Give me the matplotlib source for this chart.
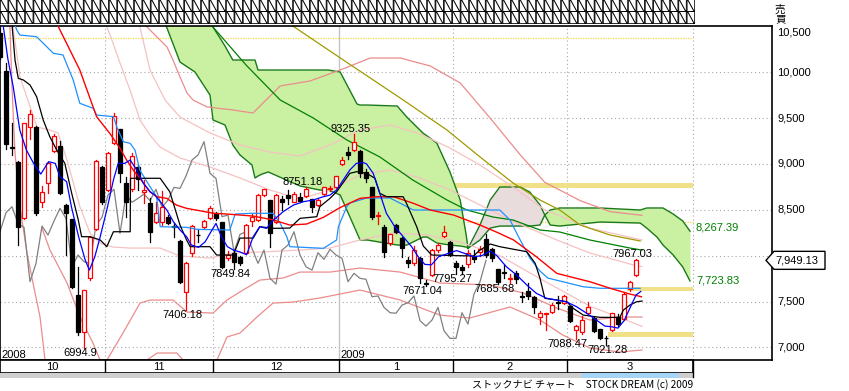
import matplotlib
matplotlib.use('Agg')
import matplotlib.pyplot as plt
from matplotlib.patches import Rectangle, Polygon
import matplotlib.transforms as mtransforms

W, H, DPI = 849, 391, 100
NUMFONT = 'Liberation Sans'
JPFONT = ['Noto Sans CJK JP', 'DejaVu Sans']

# ---------------- data (day index 0 = 2008-10-07) ----------------
opens = [10430, 10017, 9190, 9025, 8414, 9400, 9407, 8589, 8789, 9145, 9196, 8552, 8400, 7570, 7164, 7753, 8287, 8967,
         8716, 9232, 9378, 8789, 8724, 8963, 8690, 8571, 8370, 8370, 8425, 8320, 8160, 7607, 8032, 8230, 8316, 8407,
         8469, 8364, 7971, 8025, 7989, 8025, 8381, 8389, 8662, 8607, 8370, 8618, 8662, 8589, 8636, 8651, 8614, 8552, 8672, 8725, 8745,
         9000, 9134, 9152, 9145, 8916, 8745, 8430, 8316, 8135, 8334, 8189, 7952, 7916, 7971, 7700, 7789, 8061, 8214, 8152,
         7923, 7879, 7909, 7996, 8043, 8178, 8069, 7851, 7820, 7745, 7807, 7560, 7617, 7552, 7327, 7360, 7389, 7495, 7487,
         7450, 7189, 7170, 7378, 7316, 7196, 7100, 7189, 7334, 7305, 7633, 7789]
highs = [10480, 10100, 9447, 9030, 9450, 9588, 9410, 8763, 9020, 9330, 9250, 8560, 8400, 7879, 7630, 8210, 9040, 8975,
         9130, 9560, 9380, 8861, 9116, 8989, 8826, 8629, 8589, 8700, 8440, 8360, 8170, 7930, 8330, 8290, 8390, 8540,
         8480, 8370, 8050, 8060, 8000, 8340, 8450, 8670, 8730, 8610, 8670, 8650, 8720, 8690, 8680, 8751.18, 8620, 8615, 8750, 8760, 8870,
         9080, 9180, 9325.35, 9150, 8940, 8750, 8480, 8330, 8240, 8350, 8200, 7990, 8100, 7990, 7730, 8070, 8140, 8320, 8160,
         7940, 7900, 8060, 8060, 8100, 8240, 8080, 7860, 7900, 7800, 7830, 7600, 7700, 7560, 7400, 7380, 7480, 7560, 7570,
         7460, 7240, 7340, 7500, 7330, 7200, 7120, 7380, 7360, 7600, 7720, 7967.03]
lows = [10150, 9160, 9098, 8116, 8400, 9269, 8440, 8534, 8680, 9130, 8670, 8007, 7650, 7134, 6994.9, 7740, 8280, 8560,
        8700, 9220, 8807, 8425, 8700, 8716, 8571, 8152, 8360, 8330, 8340, 8200, 7700, 7406.18, 8000, 8150, 8300, 8400,
        8390, 7870, 7950, 7849.84, 7900, 8020, 8320, 8380, 8650, 8097, 8360, 8500, 8560, 8580, 8590, 8640, 8480, 8540, 8660, 8700, 8740,
        8990, 9050, 9140, 8860, 8800, 8400, 8340, 7980, 8120, 8250, 7980, 7880, 7900, 7700, 7671.04, 7780, 8040, 8200, 8000,
        7795.27, 7800, 7880, 7930, 8000, 7990, 7940, 7685.68, 7760, 7700, 7700, 7500, 7530, 7380, 7260, 7190, 7380, 7420, 7470,
        7280, 7088.47, 7150, 7370, 7170, 7090, 7021.28, 7180, 7230, 7300, 7620, 7780]
closes = [10170, 9218, 9178, 8312, 9444, 9542, 8469, 8691, 9014, 9305, 8680, 8469, 7661, 7164, 7625, 8207, 9032, 8589,
          9123, 9523, 8905, 8589, 9087, 8833, 8716, 8261, 8468, 8534, 8352, 8309, 7716, 7916, 8323, 8225, 8378, 8516,
          8407, 7879, 8007, 7934, 7916, 8334, 8418, 8662, 8724, 8244, 8662, 8582, 8625, 8672, 8600, 8724, 8527, 8607, 8745, 8734, 8869,
          9043, 9098, 9243, 8898, 8843, 8425, 8443, 8043, 8232, 8261, 8080, 7916, 8061, 7753, 7690, 8061, 8116, 8261, 8007,
          7879, 7843, 8032, 7960, 8069, 8007, 7971, 7716, 7807, 7753, 7742, 7552, 7560, 7436, 7378, 7372, 7461, 7487, 7560,
          7290, 7232, 7298, 7436, 7181, 7098, 7098, 7378, 7254, 7581, 7716, 7949.13]
last_price = 7949.13
chikou_shift = 25

# 5-day average (blue)
ma_short_x = [0.2, 0.55, 1.3, 2.2, 3.3, 4.4, 5.6, 6.8, 8.1, 9.2, 10.0, 11.1, 11.9, 13.1, 14.2, 14.9, 15.8, 16.7, 17.8, 18.9,
              19.7, 20.8, 21.7, 22.8, 23.9, 25.0, 25.8, 26.7, 27.8, 28.9, 30.0, 31.1, 31.9, 33.1, 34.2, 35.0, 36.0, 36.9,
              37.9, 38.9, 39.9, 41.1, 42.2, 43.3, 44.4, 45.6, 47.2, 48.9, 50.6, 52.2, 53.9, 55.0, 56.1, 57.2, 58.3, 59.4,
              60.6, 61.1, 62.2, 63.3, 64.4, 65.8, 67.2, 68.6, 69.7, 70.8, 71.9, 73.1, 74.7, 76.1, 77.2, 78.9, 80.3, 81.7,
              82.8, 84.4, 86.1, 87.8, 89.4, 91.1, 92.8, 94.4, 96.1, 97.8, 99.4, 100.8, 101.9, 103.0, 104.0, 105.0, 106.0, 106.8]
ma_short_v = [10750, 10500, 10150, 9843, 9370, 9152, 9007, 8890, 9025, 9007, 8861, 8807, 8534, 8207, 7952, 7843, 7988, 8207,
              8498, 8825, 9007, 9007, 9043, 8934, 8789, 8698, 8661, 8589, 8498, 8370, 8280, 8207, 8116, 8091, 8152, 8243,
              8352, 8207, 8098, 8061, 8043, 8010, 8207, 8316, 8298, 8389, 8480, 8552, 8589, 8607, 8643, 8661, 8716, 8825,
              8934, 9007, 9014, 9000, 8898, 8680, 8462, 8316, 8207, 8098, 7988, 7905, 7900, 7988, 8025, 8055, 8030, 7988,
              8000, 8050, 8000, 7879, 7789, 7680, 7589, 7535, 7516, 7497, 7443, 7371, 7298, 7232, 7225, 7210, 7290, 7430,
              7570, 7610]

# 25-day average (red)
ma_mid_x = [9.0, 9.67, 13.3, 16.1, 18.3, 20.0, 21.1, 22.2, 23.3, 25.0, 26.1, 27.8, 29.4, 31.1, 33.3, 35.6, 37.8, 40.0,
            42.2, 45.6, 48.3, 51.1, 53.9, 56.7, 60.0, 62.8, 65.6, 68.9, 71.7, 75.6, 80.0, 83.0, 85.6, 89.4, 92.8, 95.0,
            98.3, 101.7, 105.0, 106.9]
ma_mid_v = [10600, 10505, 10025, 9516, 9334, 9171, 9043, 8934, 8844, 8697, 8643, 8625, 8552, 8516, 8490, 8462, 8454, 8443,
            8432, 8389, 8334, 8345, 8418, 8525, 8625, 8643, 8643, 8571, 8498, 8443, 8334, 8250, 8171, 7988, 7807, 7770,
            7716, 7644, 7581, 7552]

# conversion line (black)
conv_x = [1.9, 2.5, 3.05, 3.9, 5.0, 6.1, 7.2, 8.3, 9.45, 10.8, 11.95, 13.05, 13.6, 15.0, 16.7, 17.8, 18.9, 21.7, 21.75,
          26.7, 28.3, 30.0, 31.1, 31.7, 35.0, 36.1, 38.9, 40.0, 42.2, 43.3, 45.5, 48.3, 50.0, 52.8, 53.3, 55.0, 56.1,
          58.3, 59.45, 61.1, 62.5, 63.3, 64.45, 67.2, 67.8, 69.45, 70.55, 71.95, 78.9, 80.0, 81.7, 83.3, 87.8, 89.2,
          90.0, 90.8, 92.8, 94.45, 95.55, 97.2, 100.0, 103.3, 103.9, 105.0, 106.1, 107.0]
conv_v = [10600, 10134, 9934, 9916, 9862, 9734, 9480, 9298, 9152, 9007, 8680, 8389, 8207, 8207, 8171, 8098, 8261, 8261,
          8844, 8844, 8697, 8334, 8171, 8098, 8098, 8007, 8007, 8192, 8192, 8316, 8298, 8301, 8407, 8425, 8534, 8625,
          8697, 8898, 8916, 8898, 8844, 8680, 8643, 8643, 8563, 8316, 8105, 8007, 7996, 8061, 8127, 8098, 8043, 7916,
          7753, 7535, 7516, 7497, 7425, 7352, 7327, 7327, 7407, 7462, 7497, 7505]

# base line (light blue)
base_x = [2.3, 2.8, 3.3, 6.1, 8.9, 10.5, 12.2, 13.3, 15.55, 16.1, 18.9, 19.45, 20.55, 21.7, 22.5, 23.3, 25.0, 26.1,
          26.7, 31.1, 32.8, 38.3, 39.2, 41.7, 45.5, 46.7, 47.8, 48.3, 53.9, 56.1, 56.4, 57.8, 58.3, 61.1, 65.0, 68.9,
          83.3, 85.0, 86.7, 88.3, 90.0, 91.3, 97.2, 100.0, 106.7]
base_v = [10550, 10461, 10407, 10388, 10207, 10189, 9916, 9662, 9607, 9534, 9516, 9407, 9243, 9225, 9152, 8934, 8752,
          8643, 8316, 8309, 8287, 8280, 8454, 8462, 8462, 8353, 8207, 8098, 8080, 8171, 8316, 8534, 8574, 8629, 8629,
          8498, 8498, 8389, 8171, 7974, 7832, 7756, 7661, 7644, 7644]

# long averages
ma_long_x = [35.5, 41.0, 46.7, 52.2, 57.8, 63.3, 68.8, 74.5, 77.8, 82.2, 85.5, 90.0, 93.3, 98.3, 105.0, 107.0]
ma_long_v = [10494, 10080, 9698, 9502, 9262, 9077, 8825, 8607, 8498, 8421, 8389, 8280, 8258, 8171, 8083, 8061]
ma_vlong_x = [48.8, 58.0, 67.2, 74.5, 80.0, 85.5, 90.0, 93.3, 96.7, 101.7, 106.7]
ma_vlong_v = [10505, 10100, 9698, 9370, 9077, 8793, 8607, 8498, 8334, 8225, 8160]

# cloud (senkou spans)
cloud_x = [27.2, 27.7, 30.0, 32.5, 35.0, 35.5, 37.5, 38.8, 40.0, 42.0, 42.5, 43.0, 43.7, 44.7, 50.0, 53.3, 54.7, 56.7,
           59.5, 60.0, 61.2, 66.2, 67.8, 70.5, 71.2, 72.8, 75.0, 76.7, 77.7, 78.0]
cloud_top = [10900, 10900, 10900, 10800, 10560, 10494, 10287, 10134, 10134, 10134, 10134, 10025, 10025, 10025, 10025,
             10025, 10025, 10003, 9654, 9643, 9643, 9632, 9512, 9337, 9305, 9228, 8912, 8607, 8225, 8080]
cloud_bot = [10900, 10505, 10112, 10003, 9752, 9480, 9425, 9207, 9098, 8989, 8847, 8869, 8891, 8913, 8760, 8716, 8716,
             8662, 8247, 8171, 8171, 8116, 8116, 8203, 8203, 8138, 8116, 8105, 8094, 8080]
twist_x = [78.0, 80.0, 81.7, 83.3, 86.7, 88.3, 90.0, 90.8]
twist_top = [8080, 8334, 8607, 8749, 8749, 8694, 8553, 8443]
twist_bot = [8080, 8171, 8301, 8323, 8323, 8323, 8334, 8443]
cloud2_x = [90.8, 91.7, 93.3, 100.0, 106.7, 107.8, 109.5, 110.5, 112.2, 113.8, 115.0]
cloud2_top = [8443, 8498, 8520, 8520, 8498, 8520, 8520, 8520, 8454, 8378, 8267.39]
cloud2_bot = [8443, 8334, 8323, 8367, 8356, 8300, 8203, 8116, 8007, 7876, 7723.83]

# price bands (yellow)
band_thin_v = [10371, 8367]
band_thin_start = [0, 77.8]
band_thick = [(8740, 8790, 75.8), (7610, 7655, 104.5), (7118, 7165, 101.3)]

# deviation bands (pink)
band_m3a_x = [1.5, 1.67, 2.0, 2.5, 3.33, 4.5, 5.5, 6.67, 7.5]
band_m3a_v = [10700, 10463, 9841, 9120, 8531, 8029, 7702, 7331, 6862]
band_m2_x = [7.0, 8.33, 11.17, 13.33, 15.5, 16.67, 17.3, 17.83, 20.5, 23.33, 25.0, 28.83, 31.17, 35.5, 37.83, 40.5,
             43.33, 47.17, 50.0, 55.0, 60.0, 66.7, 73.3, 81.7, 87.2, 92.8, 98.3, 103.8, 107.0]
band_m2_v = [8300, 8061, 7702, 7331, 7047, 6862, 6560, 6862, 7156, 7483, 7516, 7516, 7385, 7374, 7516, 7625, 7734, 7756,
             7821, 7821, 7865, 7821, 7702, 7680, 7593, 7429, 7298, 7331, 7331]
band_m3b_x = [23.8, 24.5, 26.2, 29.5, 30.5, 31.2, 35.5, 36.17, 37.83, 40.0, 42.83, 45.5, 48.83, 53.3, 60.0, 66.7, 73.3,
              78.3, 85.0, 90.0, 93.8, 98.3, 103.3, 107.0]
band_m3b_v = [6613, 6862, 6938, 6938, 6862, 6615, 6615, 6862, 7113, 7156, 7331, 7483, 7494, 7538, 7625, 7516, 7352, 7320,
              7440, 7298, 7134, 6993, 6949, 6971]
band_p3_x = [24.17, 24.5, 26.17, 27.83, 28.83, 30.0, 31.17, 32.17, 34.5, 38.83, 42.17, 46.7, 51.7, 56.7, 61.7, 66.7,
             71.7, 76.7, 81.7, 86.7, 90.8, 96.7, 101.7, 107.0]
band_p3_v = [10870, 10494, 10385, 10276, 10134, 9949, 9774, 9698, 9622, 9589, 9556, 9851, 9906, 10025, 10156, 10156,
             10069, 9884, 9500, 9100, 8800, 8600, 8480, 8440]
band_p2_x = [23.33, 25.0, 27.5, 30.0, 35.0, 40.0, 45.0, 50.0, 55.0, 60.0, 65.0, 70.0, 75.0, 80.0, 85.0, 90.8, 98.3, 107.0]
band_p2_v = [10494, 10025, 9698, 9512, 9338, 9207, 9130, 9087, 9207, 9370, 9425, 9327, 9174, 8989, 8771, 8500, 8300, 8171]
band_p1_x = [17.5, 17.83, 18.83, 20.0, 21.67, 23.33, 25.0, 26.67, 30.0, 35.0, 40.0, 45.0, 50.0, 55.0, 60.0, 65.0, 70.0,
             75.0, 80.0, 85.0, 92.8, 98.3, 105.5, 107.0]
band_p1_v = [10570, 10494, 10320, 10102, 9807, 9480, 9316, 9185, 9065, 8967, 8847, 8716, 8618, 8716, 8880, 8935, 8847,
             8716, 8553, 8389, 8171, 8029, 7900, 7880]
band_m1_x = [1.8, 2.17, 3.33, 6.17, 8.33, 9.67, 11.17, 13.33, 15.0, 16.67, 18.83, 21.67, 26.67, 30.0, 35.0, 38.83, 43.33,
             50.0, 55.0, 60.0, 65.5, 71.17, 76.67, 83.3, 90.0, 98.3, 107.0]
band_m1_v = [10700, 10494, 9949, 9403, 9370, 9338, 9043, 8531, 8247, 8138, 8094, 8083, 8083, 7996, 7974, 8029, 8040,
             8061, 8083, 8171, 8247, 8225, 8149, 8000, 7750, 7450, 7230]

# texts
month_labels = ['10', '11', '12', '1', '2', '3']
month_bounds = [0, 17.5, 35.5, 56.5, 75.5, 94.5, 115.5]
year_marks = [(0.2, '2008'), (56.8, '2009')]
price_ticks = [7000, 7500, 8000, 8500, 9000, 9500, 10000, 10500]
tick_texts = ['7,000', '7,500', '', '8,500', '9,000', '9,500', '10,000', '10,500']
extreme_labels = [(14, 6994.9, '6994.9', 'low', 0), (31, 7406.18, '7406.18', 'low', 0), (39, 7849.84, '7849.84', 'low', 0),
                  (51, 8751.18, '8751.18', 'high', 0), (59, 9325.35, '9325.35', 'high', 0),
                  (71, 7671.04, '7671.04', 'low', 0), (76, 7795.27, '7795.27', 'low', 0),
                  (83, 7685.68, '7685.68', 'low', 0), (106, 7967.03, '7967.03', 'high', 0),
                  (96, 7088.47, '7088.47', 'low', -0.8), (101, 7021.28, '7021.28', 'low', 0.8)]
cloud_end_labels = ['8,267.39', '7,723.83']
footer = 'ストックナビ チャート　STOCK DREAM (c) 2009'
side_title = '売\n買'

# ---------------- figure ----------------
fig = plt.figure(figsize=(W / DPI, H / DPI), dpi=DPI)
fig.patch.set_facecolor('white')


def fx(px):
    return px / W


def fy(py):
    return 1 - py / H


ax = fig.add_axes([0, fy(360), fx(772), (360 - 26) / H])
ax.set_xlim(0, 772 / 6)
ax.set_ylim(6862, 10505)
ax.set_xticks([])
ax.set_yticks([])
for s in ax.spines.values():
    s.set_color('black')
    s.set_linewidth(1.2)

GRID = dict(color='#a8a8a8', lw=0.8, ls=(0, (1, 2.5)), zorder=0.5)
for v in price_ticks[:-1]:
    ax.axhline(v, **GRID)
for b in month_bounds[1:]:
    if b == 56.5:
        ax.axvline(b, color='#c4c4c4', lw=1.0, zorder=0.5)
    else:
        ax.axvline(b, **GRID)

# yellow bands
for v, st in zip(band_thin_v, band_thin_start):
    ax.plot([st, 115.5], [v, v], color='#f0d840', lw=0.9, ls=(0, (1, 1)), zorder=1)
for lo, hi, st in band_thick:
    ax.fill_between([st, 115.5], lo, hi, color='#f0e088', lw=0, zorder=1)

# cloud
CL = '#1a7a1a'
ax.fill_between(cloud_x, cloud_bot, cloud_top, color='#caf0a2', lw=0, zorder=1)
ax.plot(cloud_x, cloud_top, color=CL, lw=1.0, zorder=1.2)
ax.plot(cloud_x, cloud_bot, color=CL, lw=1.0, zorder=1.2)
ax.fill_between(twist_x, twist_bot, twist_top, color='#e8dcdc', lw=0, zorder=1)
ax.plot(twist_x, twist_top, color=CL, lw=1.0, zorder=1.2)
ax.plot(twist_x, twist_bot, color=CL, lw=1.0, zorder=1.2)
ax.fill_between(cloud2_x, cloud2_bot, cloud2_top, color='#caf0a2', lw=0, zorder=1)
ax.plot(cloud2_x, cloud2_top, color=CL, lw=1.0, zorder=1.2)
ax.plot(cloud2_x, cloud2_bot, color=CL, lw=1.0, zorder=1.2)

PK_D, PK_L = '#eb8c8c', '#f5c2c2'
for xs, vs, col in [(band_m3a_x, band_m3a_v, PK_D), (band_m2_x, band_m2_v, PK_D), (band_m3b_x, band_m3b_v, PK_D),
                    (band_p3_x, band_p3_v, PK_D), (band_p2_x, band_p2_v, PK_L), (band_p1_x, band_p1_v, PK_L),
                    (band_m1_x, band_m1_v, PK_L)]:
    ax.plot(xs, vs, color=col, lw=0.9, zorder=1.5)

ax.plot(ma_vlong_x, ma_vlong_v, color='#a09a00', lw=0.9, zorder=1.6)
ax.plot(ma_long_x, ma_long_v, color='#008000', lw=0.9, zorder=1.6)

# lagging close
lag_x = [i - chikou_shift for i in range(chikou_shift, len(closes))]
ax.plot(lag_x, closes[chikou_shift:], color='#808080', lw=0.9, zorder=1.7)

# candles
bw = 0.72
for i, (o, h, l, c) in enumerate(zip(opens, highs, lows, closes)):
    up = c >= o
    col = '#ff0000' if up else '#000000'
    ax.plot([i, i], [l, h], color=col, lw=0.9, zorder=2)
    bot, top = min(o, c), max(o, c)
    ax.add_patch(Rectangle((i - bw / 2, bot), bw, max(top - bot, 1), facecolor='white' if up else 'black',
                           edgecolor=col, lw=0.9, zorder=2.1))

ax.plot(base_x, base_v, color='#1e90ff', lw=0.9, zorder=3)
ax.plot(ma_mid_x, ma_mid_v, color='#ff0000', lw=1.0, zorder=3)
ax.plot(conv_x, conv_v, color='#000000', lw=0.9, zorder=3)
ax.plot(ma_short_x, ma_short_v, color='#0000ff', lw=0.9, zorder=3.1)

# labels on chart
for i, v, t, kind, dx in extreme_labels:
    ax.text(i - 0.6 + dx, v, t, ha='center', va='top' if kind == 'low' else 'bottom', fontsize=8,
            family=NUMFONT, color='black', zorder=5)
for x, t in year_marks:
    ax.text(x, 6862, t, ha='left', va='bottom', fontsize=8, family=NUMFONT, zorder=5)
ax.annotate(cloud_end_labels[0], (cloud2_x[-1], cloud2_top[-1]), xytext=(4.3, 2.5), textcoords='offset points',
            ha='left', va='center', fontsize=8, family=NUMFONT, color='#008000')
ax.annotate(cloud_end_labels[1], (cloud2_x[-1], cloud2_bot[-1]), xytext=(4.3, 0.7), textcoords='offset points',
            ha='left', va='center', fontsize=8, family=NUMFONT, color='#008000')

# y labels on right
tr = mtransforms.blended_transform_factory(fig.transFigure, ax.transData)
for v, t in zip(price_ticks, tick_texts):
    if not t:
        continue
    if v == 10500:
        ax.annotate(t, (fx(777), 10505), xycoords=tr, xytext=(0, -1), textcoords='offset points',
                    ha='left', va='top', fontsize=8, family=NUMFONT)
    else:
        ax.text(fx(777), v, t, transform=tr, ha='left', va='center', fontsize=8, family=NUMFONT)

# current price tag
yd = ax.transData.transform((0, last_price))[1]
yp = H - yd
tag = Polygon([(fx(766), fy(yp)), (fx(774), fy(yp - 9)), (fx(825), fy(yp - 9)), (fx(825), fy(yp + 9)),
               (fx(774), fy(yp + 9))], closed=True, transform=fig.transFigure, facecolor='white', edgecolor='black',
              lw=1.0, zorder=6)
fig.patches.append(tag)
fig.text(fx(797), fy(yp), f'{last_price:,.2f}', ha='center', va='center', fontsize=8, family=NUMFONT, zorder=7)

# month axis
axm = fig.add_axes([0, fy(373), fx(693), 13 / H])
axm.set_xlim(0, 115.5)
axm.set_ylim(0, 1)
axm.set_xticks([])
axm.set_yticks([])
for s in axm.spines.values():
    s.set_linewidth(1.2)
for b in month_bounds[1:-1]:
    axm.axvline(b, color='black', lw=1.0)
for k, t in enumerate(month_labels):
    axm.text((month_bounds[k] + month_bounds[k + 1]) / 2, 0.45, t, ha='center', va='center', fontsize=8,
             family=NUMFONT)

# scrollbar
fig.patches.append(Rectangle((0, fy(377.5)), fx(693), 4.5 / H, transform=fig.transFigure,
                             facecolor='#cfcfcf', edgecolor='none'))
fig.patches.append(Rectangle((fx(582), fy(377.5)), fx(97), 5 / H, transform=fig.transFigure,
                             facecolor='#a6d4f6', edgecolor='none'))
fig.lines.append(plt.Line2D([fx(693), fx(693)], [fy(360), fy(377)], transform=fig.transFigure, color='black', lw=1))

# footer and titles
fig.text(fx(693), fy(384.5), footer, ha='right', va='center', fontsize=7.3, family=JPFONT)
fig.text(fx(775), fy(14), side_title, ha='left', va='center', fontsize=7.5, linespacing=0.95, family=JPFONT)

# header (missing-glyph boxes in the source)
hdr = '⍂' * 83
for yy in (7, 19.5):
    fig.text(0, fy(yy), hdr, ha='left', va='center', fontsize=10, family='DejaVu Sans Mono')

fig.savefig('out.png', dpi=DPI, facecolor='white')
